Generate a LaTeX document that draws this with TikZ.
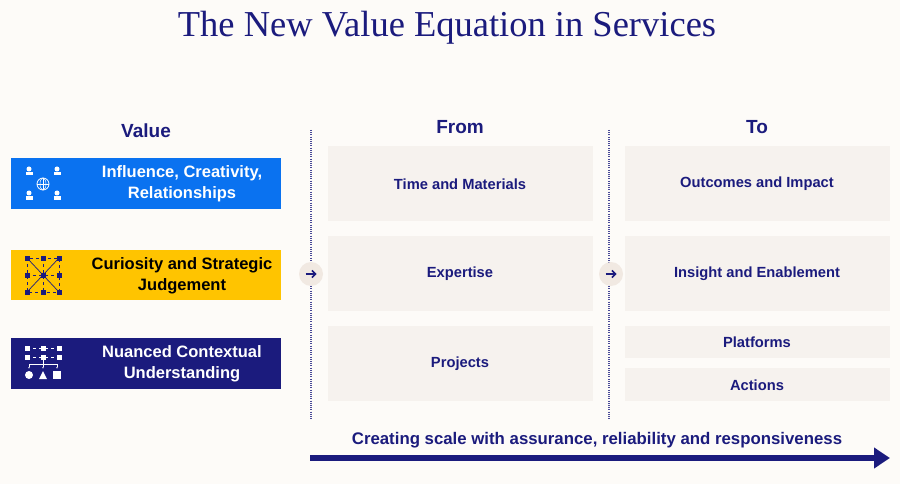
\documentclass[tikz,border=0pt]{standalone}
\usepackage{fontspec}
\setmainfont{Liberation Serif}
\setsansfont{Liberation Sans}
\usetikzlibrary{arrows.meta}
\definecolor{navy}{HTML}{1B1B7D}
\definecolor{bgc}{HTML}{FDFBF8}
\definecolor{cellc}{HTML}{F6F2EE}
\definecolor{bluec}{HTML}{0A72F0}
\definecolor{yellowc}{HTML}{FFC400}
\definecolor{circc}{HTML}{F1E9E2}
\begin{document}
\begin{tikzpicture}[x=1pt,y=-1pt]
  \tikzstyle{cell}=[fill=cellc,draw=none]
  \tikzstyle{lbl}=[font=\sffamily\bfseries\fontsize{14.7}{17}\selectfont,text=navy,align=center]
  \tikzstyle{vlbl}=[font=\sffamily\bfseries\fontsize{16.5}{21}\selectfont,align=center]
  \tikzstyle{head}=[font=\sffamily\bfseries\fontsize{19}{22}\selectfont,text=navy]
  \tikzstyle{divider}=[draw=navy!80,line width=1.3pt,dash pattern=on 1pt off 1.2pt]
  \tikzstyle{step circ}=[circle,fill=circc,minimum size=24pt,inner sep=0pt]
  \fill[bgc] (0,0) rectangle (900,484);
  \node[font=\fontsize{36.5}{40}\selectfont,text=navy] (title) at (447,28) {The New Value Equation in Services};
  % headers
  \node[head] (hvalue) at (146,131) {Value};
  \node[head] (hfrom) at (460,127) {From};
  \node[head] (hto) at (757,127) {To};
  % value boxes
  \fill[bluec] (11,158) rectangle (281,209);
  \fill[yellowc] (11,250) rectangle (281,300);
  \fill[navy] (11,338) rectangle (281,389);
  \node[vlbl,text=white] (v1) at (182,184) {Influence, Creativity,\\Relationships};
  \node[vlbl,text=black] (v2) at (182,276) {Curiosity and Strategic\\Judgement};
  \node[vlbl,text=white] (v3) at (182,364) {Nuanced Contextual\\Understanding};
  % icon 1
  \begin{scope}[white]
    \foreach \px/\py in {29/172, 57/172, 29/196, 57/196}{
      \fill (\px,\py-3) circle (2.5);
      \fill (\px-3.5,\py+3.5) rectangle (\px+3.5,\py) ;
    }
    \draw[line width=0.8pt] (43,184) circle (6);
    \draw[line width=0.5pt] (37,184) -- (49,184) (43,178) -- (43,190);
    \draw[line width=0.5pt] (43,184) ellipse (3 and 6);
  \end{scope}
  % icon 2
  \begin{scope}[navy]
    \draw[dashed,line width=0.5pt] (27,258) rectangle (59,292) (27,275) -- (59,275) (43,258) -- (43,292);
    \draw[line width=0.7pt] (27,258) -- (59,292) (59,258) -- (27,292);
    \foreach \px in {27,43,59}{\foreach \py in {258,275,292}{
      \fill (\px-2.5,\py-2.5) rectangle (\px+2.5,\py+2.5);}}
  \end{scope}
  % icon 3
  \begin{scope}[white]
    \draw[dashed,line width=0.5pt] (27,348) -- (59,348) (27,357) -- (59,357);
    \foreach \px in {27,43,59}{\foreach \py in {348,357}{
      \fill (\px-2.5,\py-2.5) rectangle (\px+2.5,\py+2.5);}}
    \draw[line width=0.5pt,-{Latex[length=2pt]}] (43,360) -- (43,369);
    \draw[line width=0.5pt,-{Latex[length=2pt]}] (43,364) -| (29,369);
    \draw[line width=0.5pt,-{Latex[length=2pt]}] (43,364) -| (57,369);
    \fill (29,375) circle (4);
    \fill (39,379) -- (47,379) -- (43,371) -- cycle;
    \fill (53,371) rectangle (61,379);
  \end{scope}
  % dividers
  \draw[divider] (311,130) -- (311,420);
  \draw[divider] (609,130) -- (609,420);
  \node[step circ] (c1) at (311,274) {};
  \node[step circ] (c2) at (611,274) {};
  \draw[navy,line width=1.5pt,-{Straight Barb[length=3.5pt]}] ([xshift=-5.5pt]c1.center) -- ([xshift=5.5pt]c1.center);
  \draw[navy,line width=1.5pt,-{Straight Barb[length=3.5pt]}] ([xshift=-5.5pt]c2.center) -- ([xshift=5.5pt]c2.center);
  % from cells
  \fill[cell] (328,146) rectangle (593,221);
  \fill[cell] (328,236) rectangle (593,311);
  \fill[cell] (328,326) rectangle (593,401);
  \node[lbl] (f1) at (460,184) {Time and Materials};
  \node[lbl] (f2) at (460,274) {Expertise};
  \node[lbl] (f3) at (460,364) {Projects};
  % to cells
  \fill[cell] (625,146) rectangle (890,221);
  \fill[cell] (625,236) rectangle (890,311);
  \fill[cell] (625,326) rectangle (890,358);
  \fill[cell] (625,368) rectangle (890,401);
  \node[lbl] (t1) at (757,184) {Outcomes and Impact};
  \node[lbl] (t2) at (757,274) {Insight and Enablement};
  \node[lbl] (t3) at (757,342) {Platforms};
  \node[lbl] (t4) at (757,385) {Actions};
  % bottom arrow
  \node[head,font=\sffamily\bfseries\fontsize{16.8}{19}\selectfont] (scale) at (597,440) {Creating scale with assurance, reliability and responsiveness};
  \coordinate (a0) at (310,458);
  \coordinate (a1) at (890,458);
  \draw[navy,line width=6pt,-{Triangle[length=16pt,width=20pt]}] (a0) -- (a1);
\end{tikzpicture}
\end{document}
